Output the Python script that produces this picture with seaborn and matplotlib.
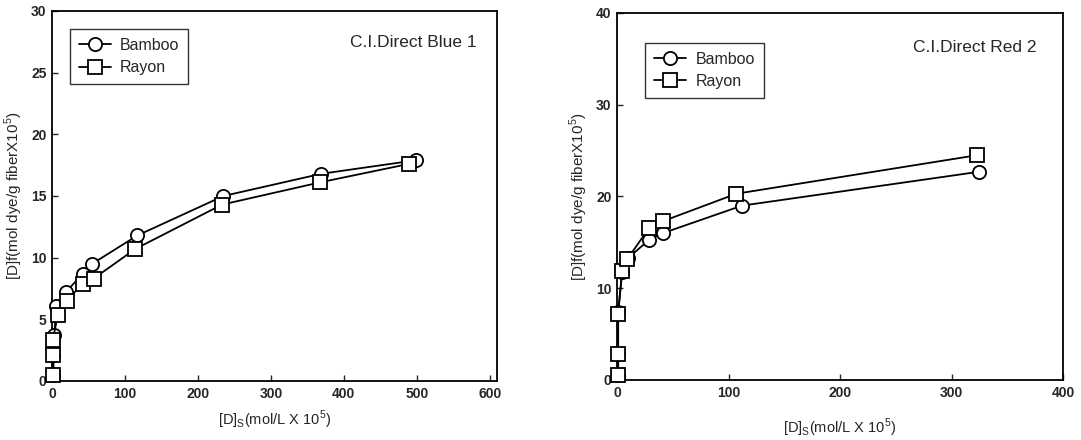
import matplotlib
matplotlib.use("Agg")
import matplotlib.pyplot as plt
from matplotlib.lines import Line2D
import numpy as np
import pandas as pd
import seaborn as sns

# C.I. Direct Blue 1
blue_bamboo_x = [2, 2, 3, 6, 19, 42, 55, 117, 235, 369, 499]
blue_bamboo_y = [0.5, 2.1, 3.7, 6.1, 7.2, 8.7, 9.5, 11.8, 15.0, 16.8, 17.9]
blue_rayon_x = [1, 1, 1, 8, 20, 42, 57, 114, 233, 367, 489]
blue_rayon_y = [0.5, 2.1, 3.3, 5.35, 6.5, 7.9, 8.3, 10.7, 14.3, 16.1, 17.6]

# C.I. Direct Red 2
red_bamboo_x = [1, 1, 1, 4.6, 10, 29, 41, 112, 325]
red_bamboo_y = [0.5, 2.8, 7.4, 11.8, 13.3, 15.3, 16.0, 19.0, 22.7]
red_rayon_x = [1, 1, 1, 4.6, 9.3, 29, 41, 107, 323]
red_rayon_y = [0.5, 2.8, 7.2, 11.9, 13.2, 16.6, 17.3, 20.3, 24.5]

fibers = ["Bamboo", "Rayon"]


def make_frame(bx, by, rx, ry):
    return pd.DataFrame({
        "x": list(bx) + list(rx),
        "y": list(by) + list(ry),
        "fiber": ["Bamboo"] * len(bx) + ["Rayon"] * len(rx),
    })


def draw_panel(ax, df, xlim, xticks, ylim, yticks, title, title_xy,
               legend_anchor, xlabelpad):
    sns.lineplot(data=df, x="x", y="y", hue="fiber", style="fiber",
                 markers={"Bamboo": "o", "Rayon": "s"}, dashes=False,
                 palette={"Bamboo": "black", "Rayon": "black"},
                 estimator=None, sort=False, ax=ax, legend=False,
                 markersize=9.5, markerfacecolor="white", markeredgecolor="black",
                 markeredgewidth=1.3, linewidth=1.3, clip_on=False, zorder=3)
    ax.set_xlim(*xlim)
    ax.set_ylim(*ylim)
    ax.set_xticks(xticks)
    ax.set_yticks(yticks)
    ax.tick_params(direction="in", length=4, width=1, labelsize=10, pad=4)
    for lab in ax.get_xticklabels() + ax.get_yticklabels():
        lab.set_fontweight("bold")
    for s in ax.spines.values():
        s.set_linewidth(1.3)
        s.set_color("black")
    ax.set_xlabel("[D]$_\\mathregular{S}$(mol/L X 10$^\\mathregular{5}$)",
                  fontsize=10.5, labelpad=xlabelpad)
    ax.set_ylabel("[D]f(mol dye/g fiberX10$^\\mathregular{5}$)", fontsize=11, labelpad=4)
    ax.text(title_xy[0], title_xy[1], title, transform=ax.transAxes,
            fontsize=12.5, ha="center", va="center")
    handles = [
        Line2D([], [], color="black", marker="o", markersize=9.5, markerfacecolor="white",
               markeredgewidth=1.3, linewidth=1.3, label="Bamboo"),
        Line2D([], [], color="black", marker="s", markersize=9.5, markerfacecolor="white",
               markeredgewidth=1.3, linewidth=1.3, label="Rayon"),
    ]
    leg = ax.legend(handles=handles, loc="upper left", bbox_to_anchor=legend_anchor,
                    borderaxespad=0, frameon=True, fancybox=False, edgecolor="black",
                    fontsize=11.5, handlelength=2.0, borderpad=0.55, labelspacing=0.45,
                    handletextpad=0.6)
    leg.get_frame().set_linewidth(1.0)


sns.set_style("ticks")
plt.rcParams["font.family"] = ["Liberation Sans", "DejaVu Sans"]
plt.rcParams["mathtext.fontset"] = "custom"
plt.rcParams["mathtext.rm"] = "Liberation Sans"

fig = plt.figure(figsize=(10.81, 4.40), dpi=100)
ax1 = fig.add_axes([0.0481, 0.1341, 0.4117, 0.8409])
ax2 = fig.add_axes([0.5708, 0.1364, 0.4126, 0.8341])

draw_panel(ax1, make_frame(blue_bamboo_x, blue_bamboo_y, blue_rayon_x, blue_rayon_y),
           (0, 610), np.arange(0, 601, 100), (0, 30), np.arange(0, 31, 5),
           "C.I.Direct Blue 1", (0.812, 0.916), (0.040, 0.951), 6)
draw_panel(ax2, make_frame(red_bamboo_x, red_bamboo_y, red_rayon_x, red_rayon_y),
           (0, 400), np.arange(0, 401, 100), (0, 40), np.arange(0, 41, 10),
           "C.I.Direct Red 2", (0.803, 0.905), (0.063, 0.918), 12)

fig.savefig("out.png", dpi=100)
